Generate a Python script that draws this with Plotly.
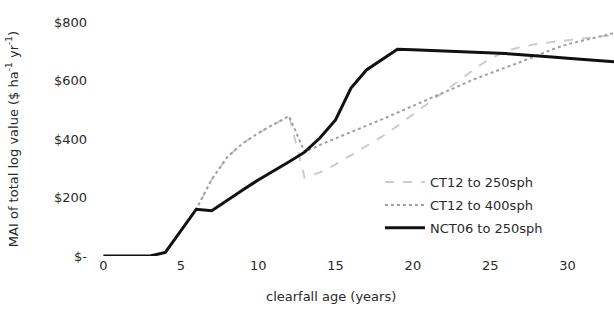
import plotly.graph_objects as go

# Stand age (years)
age = list(range(0, 34))

# MAI of total log value ($/ha/yr) by regime
nct06_250 = [0, 0, 0, 0, 12, 85, 160, 155, 192, 226, 260, 290, 322, 355, 404, 465,
             574, 636, 672, 707, 705, 703, 701, 699, 697, 694, 692, 688, 685, 680,
             676, 672, 668, 664]
ct12_400 = [0, 0, 0, 0, 12, 85, 160, 262, 338, 385, 420, 450, 478, 355, 380, 402,
            423, 445, 467, 490, 513, 536, 560, 583, 605, 625, 644, 664, 685, 706,
            724, 737, 750, 762]
ct12_250 = [0, 0, 0, 0, 12, 85, 160, 262, 338, 385, 420, 450, 478, 268, 286, 313,
            345, 376, 408, 445, 483, 521, 560, 600, 640, 675, 700, 715, 725, 732,
            738, 744, 750, 755]

series_names = ["CT12 to 250sph", "CT12 to 400sph", "NCT06 to 250sph"]

y_ticks = [0, 200, 400, 600, 800]
y_tick_text = ["$-", "$200", "$400", "$600", "$800"]
x_ticks = [0, 5, 10, 15, 20, 25, 30]

FONT = "DejaVu Sans"
TXT = "#2a2a2a"

fig = go.Figure()
fig.add_trace(go.Scatter(x=age, y=ct12_250, name=series_names[0], mode="lines",
                         legend="legend",
                         line=dict(color="#cccccc", width=2, dash="dash")))
fig.add_trace(go.Scatter(x=age, y=ct12_400, name=series_names[1], mode="lines",
                         legend="legend2",
                         line=dict(color="#a0a0a0", width=2, dash="dot")))
fig.add_trace(go.Scatter(x=age, y=nct06_250, name=series_names[2], mode="lines",
                         legend="legend3",
                         line=dict(color="#111111", width=3)))

# one legend box per regime so the rows can be spaced freely
leg_common = dict(x=0.555, xanchor="left", yanchor="middle",
                  bgcolor="rgba(0,0,0,0)", font=dict(size=13, color=TXT),
                  itemwidth=40)

fig.update_layout(
    width=614, height=320,
    margin=dict(l=88, r=0, t=22, b=64),
    paper_bgcolor="white", plot_bgcolor="white",
    font=dict(family=FONT, size=12, color=TXT),
    showlegend=True,
    legend=dict(y=0.316, **leg_common),
    legend2=dict(y=0.218, **leg_common),
    legend3=dict(y=0.120, **leg_common),
    xaxis=dict(range=[-1, 33], tickvals=x_ticks, showgrid=False, zeroline=False,
               showline=False, ticks="", tickfont=dict(size=13)),
    yaxis=dict(range=[0, 800], tickvals=y_ticks, ticktext=y_tick_text,
               showgrid=False, zeroline=False, showline=False, ticks="",
               tickfont=dict(size=13),
               title=dict(text="MAI of total log value ($ ha<sup>-1</sup> yr<sup>-1</sup>)",
                          font=dict(size=13), standoff=32)),
    annotations=[dict(text="clearfall age (years)", xref="paper", yref="paper",
                      x=0.462, y=-0.175, xanchor="center", yanchor="middle",
                      showarrow=False, font=dict(size=13, color=TXT))],
)

fig.write_html("out.html")
